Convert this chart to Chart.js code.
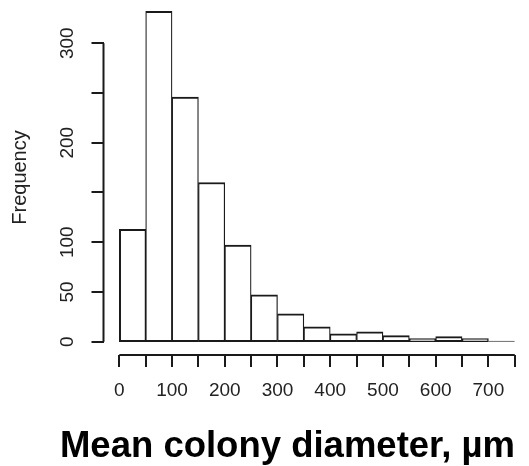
<!DOCTYPE html>
<html>
<head>
<meta charset="utf-8">
<script src="https://cdn.jsdelivr.net/npm/chart.js@4.4.1/dist/chart.umd.min.js"></script>
<style>
  html, body { margin: 0; padding: 0; background: #fff; }
  #wrap { width: 529px; height: 466px; position: relative; }
</style>
</head>
<body>
<div id="wrap"><canvas id="histChart"></canvas></div>
<script>
// histogram bins (50 um wide), centre of each bin
const binCenters = [25, 75, 125, 175, 225, 275, 325, 375, 425, 475, 525, 575, 625, 675, 725]
const counts = [113, 332, 246, 160, 97, 47, 28, 15, 8, 10, 6, 3, 5, 3, 1]

// axis ticks, R style (some labels left out)
const xTicks = [0, 50, 100, 150, 200, 250, 300, 350, 400, 450, 500, 550, 600, 650, 700, 750]
const xTickLabels = ['0', '', '100', '', '200', '', '300', '', '400', '', '500', '', '600', '', '700', '']
const yTicks = [0, 50, 100, 150, 200, 250, 300]
const yTickLabels = ['0', '50', '100', '', '200', '', '300']

const xTitle = 'Mean colony diameter, µm'
const yTitle = 'Frequency'

const ink = '#1a1a1a'
Chart.defaults.font.family = '"Liberation Sans", Arial, sans-serif'

// axis lines only over the tick range + bold title under the plot
const axisLines = {
  id: 'axisLines',
  afterDraw(chart) {
    const ctx = chart.ctx
    const xs = chart.scales.x
    const ys = chart.scales.y
    ctx.save()
    ctx.strokeStyle = ink
    ctx.lineWidth = 2
    ctx.beginPath()
    ctx.moveTo(xs.getPixelForValue(xTicks[0]), xs.top)
    ctx.lineTo(xs.getPixelForValue(xTicks[xTicks.length - 1]), xs.top)
    ctx.moveTo(ys.right, ys.getPixelForValue(yTicks[0]))
    ctx.lineTo(ys.right, ys.getPixelForValue(yTicks[yTicks.length - 1]))
    ctx.stroke()

    ctx.fillStyle = '#000'
    ctx.font = 'bold 36.5px "Liberation Sans", Arial, sans-serif'
    ctx.textAlign = 'center'
    ctx.textBaseline = 'alphabetic'
    ctx.fillText(xTitle, 287.5, 456.5)
    ctx.restore()
  }
}

const ctx = document.getElementById('histChart')
const histChart = new Chart(ctx, {
  type: 'bar',
  data: {
    datasets: [{
      data: binCenters.map((c, i) => ({ x: c, y: counts[i] })),
      // tiny base offset: otherwise chart.js trims half the 0-tick width off every bar
      base: 1e-6,
      backgroundColor: '#ffffff',
      borderColor: ink,
      borderWidth: (c) => ({
        top: 2,
        bottom: 2,
        left: c.dataIndex === 0 ? 2 : 1.25,
        right: c.dataIndex === counts.length - 1 ? 2 : 1.25
      }),
      borderSkipped: false,
      inflateAmount: (c) => counts[c.dataIndex] < 2 ? 0 : 0.33,
      barPercentage: 1,
      categoryPercentage: 1
    }]
  },
  options: {
    responsive: true,
    maintainAspectRatio: false,
    animation: false,
    layout: { padding: 0 },
    plugins: {
      legend: { display: false },
      tooltip: { enabled: false }
    },
    scales: {
      x: {
        type: 'linear',
        offset: false,
        min: -30,
        max: 777,
        afterBuildTicks: (s) => { s.ticks = xTicks.map(v => ({ value: v })) },
        afterFit: (s) => {
          s.height = 111
          s.paddingLeft = 0; s.paddingRight = 0; s.paddingTop = 0; s.paddingBottom = 0
        },
        border: { display: false },
        grid: {
          offset: false,
          drawOnChartArea: false,
          drawTicks: true,
          tickLength: 12,
          color: ink,
          lineWidth: 2
        },
        ticks: {
          autoSkip: false,
          maxRotation: 0,
          padding: 12,
          color: '#222',
          font: { size: 19 },
          callback: (v, i) => xTickLabels[i]
        }
      },
      y: {
        min: -13.4,
        max: 343.5,
        afterBuildTicks: (s) => { s.ticks = yTicks.map(v => ({ value: v })) },
        afterFit: (s) => {
          s.width = 103.5
          s.paddingLeft = 0; s.paddingRight = 0; s.paddingTop = 0; s.paddingBottom = 0
        },
        border: { display: false },
        grid: {
          drawOnChartArea: false,
          drawTicks: true,
          tickLength: 12,
          color: ink,
          lineWidth: 2
        },
        ticks: {
          autoSkip: false,
          minRotation: 90,
          maxRotation: 90,
          crossAlign: 'center',
          padding: 8,
          color: '#222',
          font: { size: 19 },
          callback: (v, i) => yTickLabels[i]
        },
        title: {
          display: true,
          text: yTitle,
          color: '#222',
          font: { size: 20 },
          padding: { top: 8, bottom: 0 }
        }
      }
    }
  },
  plugins: [axisLines]
})
</script>
</body>
</html>
